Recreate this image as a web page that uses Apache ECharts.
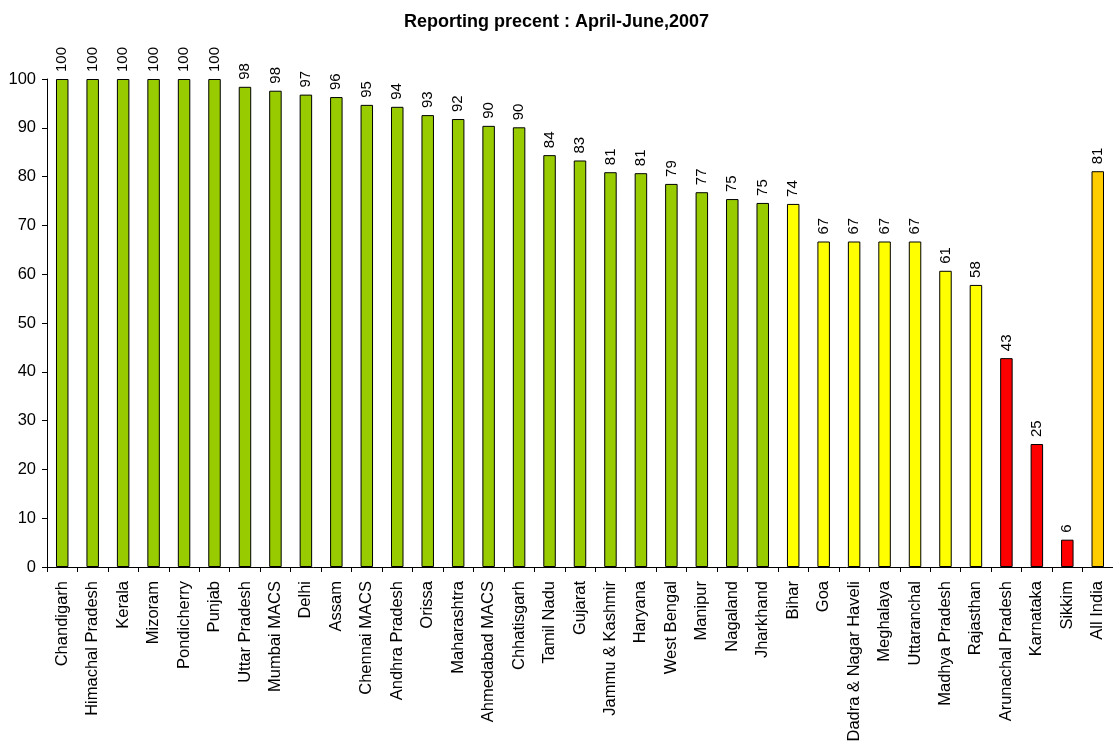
<!DOCTYPE html>
<html>
<head>
<meta charset="utf-8">
<title>Reporting precent</title>
<script src="https://cdn.jsdelivr.net/npm/echarts@6/dist/echarts.min.js"></script>
<style>
  html, body { margin: 0; padding: 0; background: #fff; }
  #chart { width: 1113px; height: 745px; }
</style>
</head>
<body>
<div id="chart"></div>
<script>
// states / units
const states = [
  'Chandigarh', 'Himachal Pradesh', 'Kerala', 'Mizoram', 'Pondicherry', 'Punjab',
  'Uttar Pradesh', 'Mumbai MACS', 'Delhi', 'Assam', 'Chennai MACS', 'Andhra Pradesh',
  'Orissa', 'Maharashtra', 'Ahmedabad MACS', 'Chhatisgarh', 'Tamil Nadu', 'Gujarat',
  'Jammu & Kashmir', 'Haryana', 'West Bengal', 'Manipur', 'Nagaland', 'Jharkhand',
  'Bihar', 'Goa', 'Dadra & Nagar Haveli', 'Meghalaya', 'Uttaranchal', 'Madhya Pradesh',
  'Rajasthan', 'Arunachal Pradesh', 'Karnataka', 'Sikkim', 'All India'
]
// reporting percent
const reporting = [
  100, 100, 100, 100, 100, 100,
  98.4, 97.6, 96.8, 96.3, 94.7, 94.3,
  92.6, 91.8, 90.4, 90.1, 84.4, 83.3,
  80.9, 80.7, 78.5, 76.8, 75.4, 74.6,
  74.4, 66.7, 66.7, 66.7, 66.7, 60.7,
  57.8, 42.8, 25.2, 5.6, 81.1
]
const yTicks = [0, 10, 20, 30, 40, 50, 60, 70, 80, 90, 100]

// 颜色按数值分组
function barColor (name, v) {
  if (name === 'All India') return '#FFCC00'
  const r = Math.round(v)
  if (r >= 75) return '#99CC00'
  if (r >= 50) return '#FFFF00'
  return '#FF0000'
}

const font = 'Liberation Sans, Arial'

const chart = echarts.init(document.getElementById('chart'))
chart.setOption({
  animation: false,
  backgroundColor: '#fff',
  title: {
    text: 'Reporting precent : April-June,2007',
    left: 'center',
    top: 8,
    textStyle: {
      fontFamily: font,
      fontSize: 18,
      fontWeight: 'bold',
      color: '#000'
    }
  },
  grid: {
    left: 47,
    right: 0,
    top: 79,
    bottom: 178,
    containLabel: false
  },
  xAxis: {
    type: 'category',
    data: states,
    axisLine: { lineStyle: { color: '#000', width: 1 } },
    axisTick: { show: true, length: 5, lineStyle: { color: '#000' } },
    axisLabel: {
      rotate: 90,
      interval: 0,
      color: '#000',
      fontFamily: font,
      fontSize: 16.5,
      margin: 14
    }
  },
  yAxis: {
    type: 'value',
    min: yTicks[0],
    max: yTicks[yTicks.length - 1],
    interval: 10,
    splitLine: { show: false },
    axisLine: { show: true, lineStyle: { color: '#000', width: 1 } },
    axisTick: { show: true, length: 5, lineStyle: { color: '#000' } },
    axisLabel: {
      color: '#000',
      fontFamily: font,
      fontSize: 16.5,
      margin: 11
    }
  },
  series: [
    {
      type: 'bar',
      barWidth: '41%',
      data: reporting.map((v, i) => ({
        value: v,
        itemStyle: {
          color: barColor(states[i], v),
          borderColor: '#000',
          borderWidth: 1
        }
      })),
      label: {
        show: true,
        position: 'top',
        rotate: 90,
        align: 'left',
        verticalAlign: 'middle',
        distance: 7,
        color: '#000',
        fontFamily: font,
        fontSize: 15,
        formatter: p => Math.round(p.value)
      }
    }
  ]
})
</script>
</body>
</html>
